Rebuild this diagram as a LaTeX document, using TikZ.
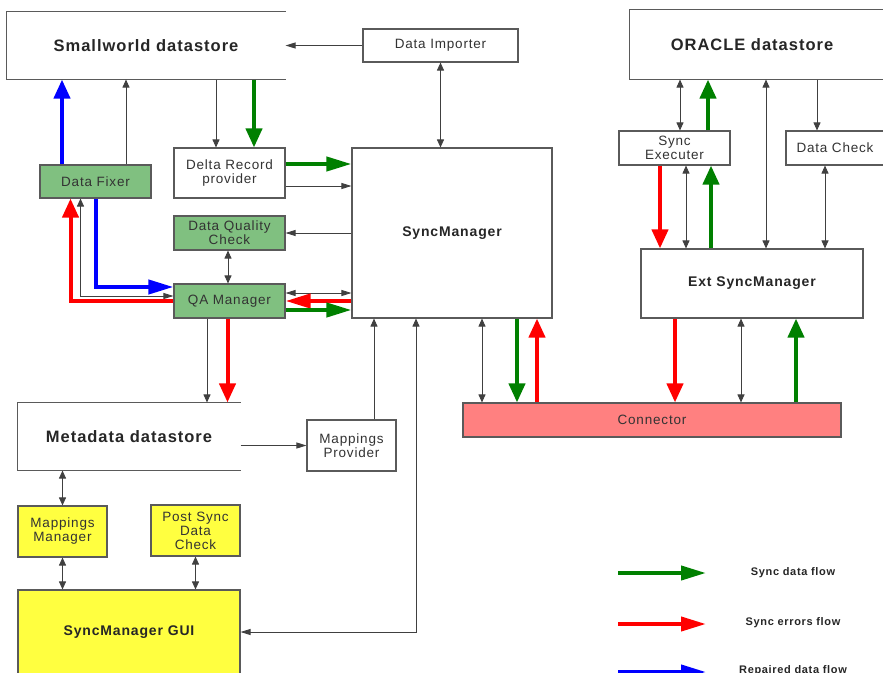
\documentclass[tikz,border=0pt]{standalone}
\usepackage{fontspec}
\setmainfont{Liberation Sans}[LetterSpace=6]
\usetikzlibrary{arrows.meta}
\definecolor{bx}{HTML}{5A5A5A}
\definecolor{gfill}{HTML}{80C080}
\definecolor{yfill}{HTML}{FFFF40}
\definecolor{cfill}{HTML}{FF8080}
\definecolor{ga}{HTML}{008000}
\definecolor{ra}{HTML}{FF0000}
\definecolor{ba}{HTML}{0000FF}
\definecolor{tx}{HTML}{333333}
\definecolor{ln}{HTML}{404040}
\tikzset{
  Tv/.tip={Triangle[length=8pt,width=7pt]},
  Th/.tip={Triangle[length=10pt,width=6pt]},
  Fv/.tip={Triangle[length=19pt,width=16pt]},
  Fh/.tip={Triangle[length=25pt,width=14pt]},
  box/.style={draw=bx, line width=1.1pt, inner sep=0pt, align=center, text=tx,
    font=\fontsize{13.5}{14}\selectfont},
  gbox/.style={box, fill=gfill},
  ybox/.style={box, fill=yfill},
  title/.style={font=\fontsize{16.5}{18}\selectfont\bfseries, text=black!85},
  mtitle/.style={font=\fontsize{14}{16}\selectfont\bfseries, text=black!85},
  leg/.style={font=\fontsize{11}{13}\selectfont\bfseries, text=black!85, inner sep=0pt},
  edge3/.style={draw=bx, line width=1.1pt},
  tl/.style={draw=ln, line width=0.9pt},
  fg/.style={draw=ga, line width=4pt},
  fr/.style={draw=ra, line width=4pt},
  fb/.style={draw=ba, line width=4pt}
}
\begin{document}
\begin{tikzpicture}[x=1pt,y=-1pt]
\useasboundingbox (0,0) rectangle (883,672);
\clip (0,0) rectangle (883,672);
\fill[white] (0,0) rectangle (883,672);

% nodes
\node[box, title, draw=none, minimum width=278pt, minimum height=67pt] (smw) at (146,45.5) {Smallworld datastore};
\node[box, minimum width=155pt, minimum height=33pt] (dimp) at (440.5,45.5) {Data Importer};
\node[box, mtitle, minimum width=200pt, minimum height=170pt] (sm) at (452,233) {SyncManager};
\node[box, minimum width=111pt, minimum height=50pt] (drp) at (229.5,173) {Delta Record\\provider};
\node[gbox, minimum width=111pt, minimum height=33pt] (dfix) at (95.5,181.5) {Data Fixer};
\node[gbox, minimum width=111pt, minimum height=34pt] (dqc) at (229.5,233) {Data Quality\\Check};
\node[gbox, minimum width=111pt, minimum height=34pt] (qa) at (229.5,301) {QA Manager};
\node[box, title, draw=none, minimum width=222pt, minimum height=67pt] (meta) at (129,436.5) {Metadata datastore};
\node[box, minimum width=89pt, minimum height=51pt] (mprov) at (351.5,445.5) {Mappings\\Provider};
\node[ybox, minimum width=89pt, minimum height=51pt] (mman) at (62.5,531.5) {Mappings\\Manager};
\node[ybox, minimum width=89pt, minimum height=51pt] (psdc) at (195.5,530.5) {Post Sync\\Data\\Check};
\node[ybox, mtitle, minimum width=222pt, minimum height=84pt] (gui) at (129,632) {SyncManager GUI};
\node[box, fill=cfill, minimum width=378pt, minimum height=34pt] (conn) at (652,420) {Connector};
\node[box, title, draw=none, minimum width=244pt, minimum height=69pt] (ora) at (752,44.5) {ORACLE datastore};
\node[box, minimum width=111pt, minimum height=34pt] (sexe) at (674.5,148) {Sync\\Executer};
\node[box, minimum width=98pt, minimum height=34pt] (dchk) at (835,148) {Data Check};
\node[box, mtitle, minimum width=222pt, minimum height=69pt] (ext) at (752,283.5) {Ext SyncManager};

% open-sided boxes
\draw[edge3] (smw.north east) -- (smw.north west) -- (smw.south west) -- (smw.south east);
\draw[edge3] (meta.north east) -- (meta.north west) -- (meta.south west) -- (meta.south east);
\draw[edge3] ([xshift=12pt]ora.north east) -- (ora.north west) -- (ora.south west) -- ([xshift=12pt]ora.south east);

% left part
\draw[tl,-Th] (dimp.west) -- (dimp.west -| smw.east);
\draw[tl,Tv-Tv] (dimp.south) -- (dimp.south |- sm.north);
\draw[tl,-Tv] ([xshift=-13.5pt]drp.north |- smw.south) -- ([xshift=-13.5pt]drp.north);
\draw[fg,-Fv] ([xshift=24.5pt]drp.north |- smw.south) -- ([xshift=24.5pt]drp.north);
\draw[fb,-Fv] ([xshift=-33.5pt]dfix.north) -- ([xshift=-33.5pt]dfix.north |- smw.south);
\draw[tl,-Tv] ([xshift=30.5pt]dfix.north) -- ([xshift=30.5pt]dfix.north |- smw.south);
\draw[fg,-Fh] ([yshift=9pt]drp.east) -- ([yshift=9pt]drp.east -| sm.west);
\draw[tl,-Th] ([yshift=-13pt]drp.east) -- ([yshift=-13pt]drp.east -| sm.west);
\draw[tl,-Th] (dqc.east -| sm.west) -- (dqc.east);
\draw[tl,Tv-Tv] ([xshift=-1.5pt]dqc.south) -- ([xshift=-1.5pt]qa.north);
\draw[tl,Th-Th] ([yshift=8pt]qa.east) -- ([yshift=8pt]qa.east -| sm.west);
\draw[fr,-Fh] (qa.east -| sm.west) -- (qa.east);
\draw[fg,-Fh] ([yshift=-9pt]qa.east) -- ([yshift=-9pt]qa.east -| sm.west);
\draw[fb,-Fh] ([xshift=0.5pt]dfix.south) |- ([yshift=14pt]qa.west);
\draw[tl,Tv-Th] ([xshift=-15pt]dfix.south) |- ([yshift=5pt]qa.west);
\draw[fr,-Fv] (qa.west) -| ([xshift=-25pt]dfix.south);
\draw[tl,-Tv] ([xshift=-22.5pt]qa.south) -- ([xshift=-22.5pt]qa.south |- meta.north);
\draw[fr,-Fv] ([xshift=-2pt]qa.south) -- ([xshift=-2pt]qa.south |- meta.north);
\draw[tl,-Th] (mprov.west -| meta.east) -- (mprov.west);
\draw[tl,-Tv] ([xshift=22.5pt]mprov.north) -- ([xshift=22.5pt]mprov.north |- sm.south);
\draw[tl,Tv-Th] ([xshift=-36pt]sm.south) |- (gui.east);
\draw[tl,Tv-Tv] (mman.north |- meta.south) -- (mman.north);
\draw[tl,Tv-Tv] (mman.south) -- (mman.south |- gui.north);
\draw[tl,Tv-Tv] (psdc.south) -- (psdc.south |- gui.north);
\draw[tl,Tv-Tv] ([xshift=30pt]sm.south) -- ([xshift=30pt]sm.south |- conn.north);
\draw[fg,-Fv] ([xshift=65pt]sm.south) -- ([xshift=65pt]sm.south |- conn.north);
\draw[fr,-Fv] ([xshift=85pt]sm.south |- conn.north) -- ([xshift=85pt]sm.south);

% right part
\draw[tl,Tv-Tv] ([xshift=5.5pt]sexe.north |- ora.south) -- ([xshift=5.5pt]sexe.north);
\draw[fg,-Fv] ([xshift=33.5pt]sexe.north) -- ([xshift=33.5pt]sexe.north |- ora.south);
\draw[tl,Tv-Tv] ([xshift=14pt]ext.north |- ora.south) -- ([xshift=14pt]ext.north);
\draw[tl,-Tv] ([xshift=-18pt]dchk.north |- ora.south) -- ([xshift=-18pt]dchk.north);
\draw[tl,Tv-Tv] ([xshift=-10pt]dchk.south) -- ([xshift=-10pt]dchk.south |- ext.north);
\draw[fr,-Fv] ([xshift=-14.5pt]sexe.south) -- ([xshift=-14.5pt]sexe.south |- ext.north);
\draw[tl,Tv-Tv] ([xshift=11.5pt]sexe.south) -- ([xshift=11.5pt]sexe.south |- ext.north);
\draw[fg,-Fv] ([xshift=36.5pt]sexe.south |- ext.north) -- ([xshift=36.5pt]sexe.south);
\draw[fr,-Fv] ([xshift=-77pt]ext.south) -- ([xshift=-77pt]ext.south |- conn.north);
\draw[tl,Tv-Tv] ([xshift=-11pt]ext.south) -- ([xshift=-11pt]ext.south |- conn.north);
\draw[fg,-Fv] ([xshift=44pt]ext.south |- conn.north) -- ([xshift=44pt]ext.south);

% legend
\coordinate (g1) at (618,573); \coordinate (g2) at (706,573);
\coordinate (r1) at (618,624); \coordinate (r2) at (706,624);
\coordinate (b1) at (618,672); \coordinate (b2) at (706,672);
\draw[fg,-Fh] (g1) -- (g2);
\draw[fr,-Fh] (r1) -- (r2);
\draw[fb,-Fh] (b1) -- (b2);
\node[leg] (lg) at (793,573) {Sync data flow};
\node[leg] (lr) at (793,623) {Sync errors flow};
\node[leg] (lb) at (793,671) {Repaired data flow};
\end{tikzpicture}
\end{document}
